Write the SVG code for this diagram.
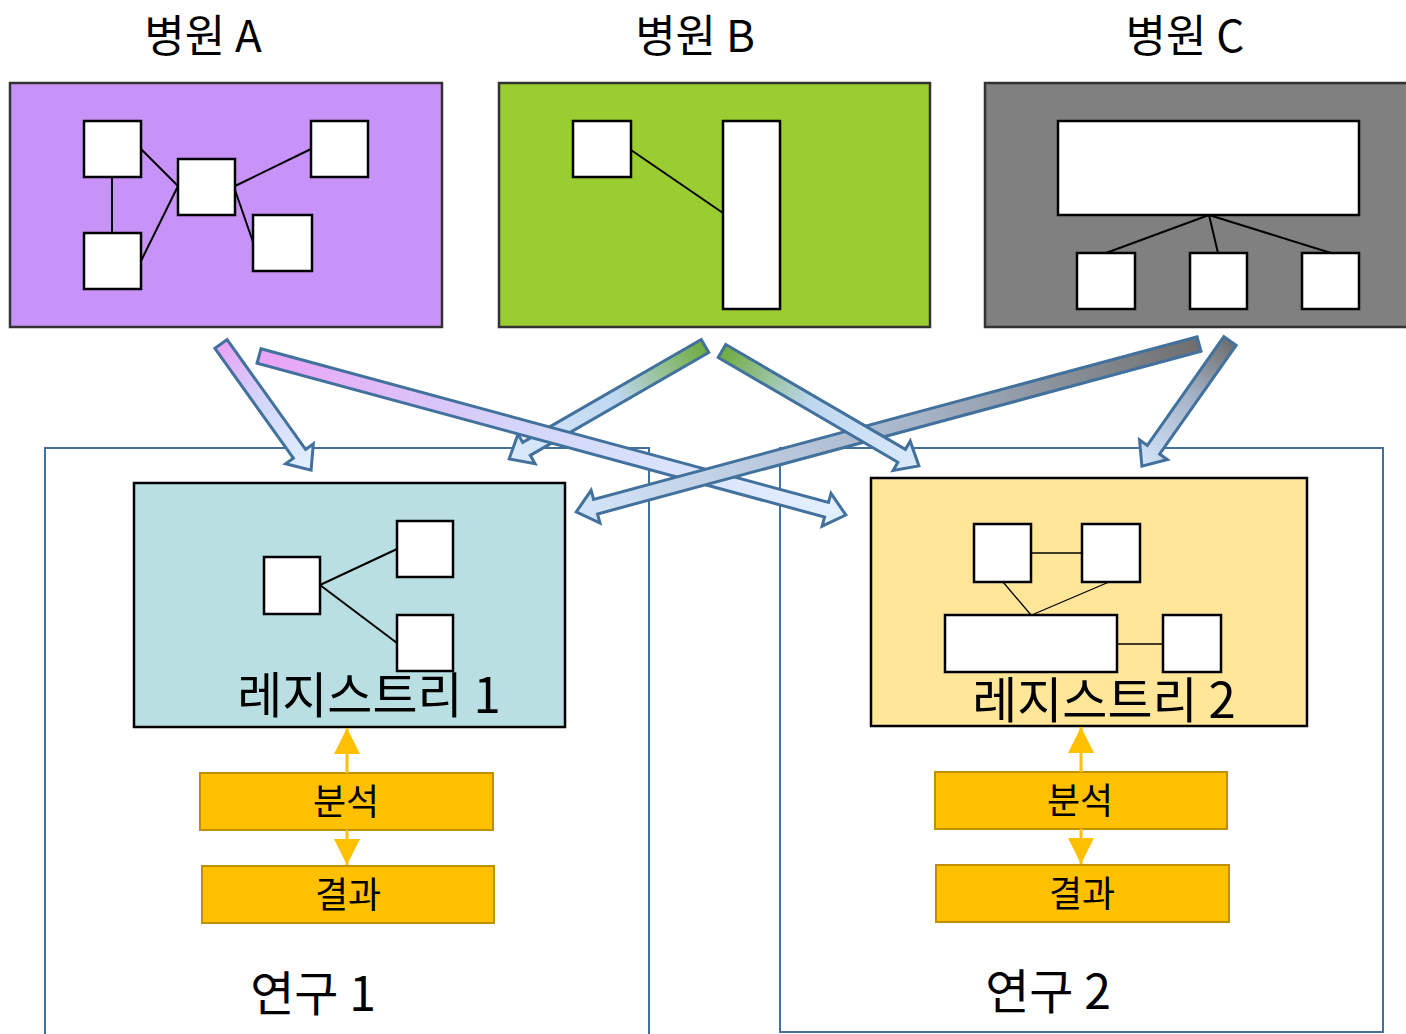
<svg xmlns="http://www.w3.org/2000/svg" width="1406" height="1034" viewBox="0 0 1406 1034">
<defs>
<style>
.t{font-family:"Noto Sans CJK KR","Noto Sans",sans-serif;fill:#000;text-anchor:middle}
.title{font-size:44px}
.reg{font-size:49px}
.lbl{font-size:36px}
.study{font-size:48px}
.wb{fill:#fff;stroke:#000;stroke-width:2.5}
.ln{stroke:#000;stroke-width:2;fill:none}
.lt{stroke:#000;stroke-width:1.3;fill:none}
.study-box{fill:none;stroke:#41719c;stroke-width:2}
.blk{stroke:#41719c;stroke-width:3;stroke-linejoin:miter}
.ob{fill:#ffc000;stroke:#bf9000;stroke-width:2}
.oa{stroke:#ffc000;stroke-width:3;fill:none}
</style>
<linearGradient id="gA" x1="0" y1="0" x2="1" y2="0">
<stop offset="0" stop-color="#e9a3f5"/><stop offset="0.45" stop-color="#d3d6fa"/><stop offset="1" stop-color="#e2f1ff"/>
</linearGradient>
<linearGradient id="gB" x1="0" y1="0" x2="1" y2="0">
<stop offset="0" stop-color="#6fab3e"/><stop offset="0.45" stop-color="#bed7f0"/><stop offset="1" stop-color="#dbeafc"/>
</linearGradient>
<linearGradient id="gC" x1="0" y1="0" x2="1" y2="0">
<stop offset="0" stop-color="#6e6e6e"/><stop offset="0.45" stop-color="#a6b4c8"/><stop offset="1" stop-color="#d4e5f9"/>
</linearGradient>
<marker id="oh2" viewBox="0 0 26 26" refX="26" refY="13" markerWidth="26" markerHeight="26" markerUnits="userSpaceOnUse" orient="auto">
<path d="M0,0 L26,13 L0,26 Z" fill="#ffc000"/>
</marker>
</defs>

<!-- titles -->
<text class="t title" x="203" y="52">병원 A</text>
<text class="t title" x="695" y="52">병원 B</text>
<text class="t title" x="1185" y="52">병원 C</text>

<!-- Hospital A -->
<g id="hospitalA">
<rect x="10" y="83" width="432" height="244" fill="#c893f8" stroke="#333" stroke-width="2.5"/>
<line class="ln" x1="141" y1="149" x2="178" y2="186"/>
<line class="ln" x1="112" y1="177" x2="112" y2="233"/>
<line class="ln" x1="141" y1="261" x2="178" y2="186"/>
<line class="ln" x1="235" y1="186" x2="311" y2="149"/>
<line class="ln" x1="235" y1="190" x2="253" y2="242"/>
<rect class="wb" x="84" y="121" width="57" height="56"/>
<rect class="wb" x="84" y="233" width="57" height="56"/>
<rect class="wb" x="178" y="159" width="57" height="56"/>
<rect class="wb" x="311" y="121" width="57" height="56"/>
<rect class="wb" x="253" y="215" width="59" height="56"/>
</g>

<!-- Hospital B -->
<g id="hospitalB">
<rect x="499" y="83" width="431" height="244" fill="#9acd32" stroke="#333" stroke-width="2.5"/>
<line class="ln" x1="631" y1="150" x2="723" y2="213"/>
<rect class="wb" x="573" y="121" width="58" height="56"/>
<rect class="wb" x="723" y="121" width="57" height="188"/>
</g>

<!-- Hospital C -->
<g id="hospitalC">
<rect x="985" y="83" width="440" height="244" fill="#808080" stroke="#333" stroke-width="2.5"/>
<line class="ln" x1="1209" y1="215" x2="1106" y2="253"/>
<line class="ln" x1="1209" y1="215" x2="1218" y2="253"/>
<line class="ln" x1="1209" y1="215" x2="1331" y2="253"/>
<rect class="wb" x="1058" y="121" width="301" height="94"/>
<rect class="wb" x="1077" y="253" width="58" height="56"/>
<rect class="wb" x="1190" y="253" width="57" height="56"/>
<rect class="wb" x="1302" y="253" width="57" height="56"/>
</g>

<!-- Study frames -->
<g id="study1">
<rect class="study-box" x="45" y="448" width="604" height="600"/>
<text class="t study" x="313" y="1011">연구 1</text>
</g>
<g id="study2">
<rect class="study-box" x="780" y="448" width="603" height="584"/>
<text class="t study" x="1048" y="1009">연구 2</text>
</g>

<!-- Registry 1 -->
<g id="registry1">
<rect x="134" y="483" width="431" height="244" fill="#b9dfe2" stroke="#000" stroke-width="2.5"/>
<line class="ln" x1="320" y1="585" x2="397" y2="549"/>
<line class="ln" x1="320" y1="585" x2="397" y2="643"/>
<rect class="wb" x="264" y="557" width="56" height="57"/>
<rect class="wb" x="397" y="521" width="56" height="56"/>
<rect class="wb" x="397" y="615" width="56" height="56"/>
<text class="t reg" x="369" y="713">레지스트리 1</text>
</g>

<!-- Registry 2 -->
<g id="registry2">
<rect x="871" y="478" width="436" height="248" fill="#ffe699" stroke="#000" stroke-width="2.5"/>
<line class="lt" x1="1031" y1="553" x2="1082" y2="553"/>
<line class="lt" x1="1003" y1="582" x2="1031" y2="615"/>
<line class="lt" x1="1109" y1="582" x2="1034" y2="614"/>
<line class="lt" x1="1117" y1="644" x2="1163" y2="644"/>
<rect class="wb" x="974" y="524" width="57" height="58"/>
<rect class="wb" x="1082" y="524" width="58" height="58"/>
<rect class="wb" x="945" y="615" width="172" height="57"/>
<rect class="wb" x="1163" y="615" width="58" height="57"/>
<text class="t reg" x="1104" y="718">레지스트리 2</text>
</g>

<!-- Analysis / results -->
<g id="analysis1">
<rect class="ob" x="200" y="773" width="293" height="57"/>
<text class="t lbl" x="346" y="815">분석</text>
</g>
<g id="result1">
<rect class="ob" x="202" y="866" width="292" height="57"/>
<text class="t lbl" x="348" y="908">결과</text>
</g>
<g id="analysis2">
<rect class="ob" x="935" y="772" width="292" height="57"/>
<text class="t lbl" x="1080" y="814">분석</text>
</g>
<g id="result2">
<rect class="ob" x="936" y="865" width="293" height="57"/>
<text class="t lbl" x="1082" y="907">결과</text>
</g>

<!-- connectors -->
<g id="connectors">
<line class="oa" x1="347" y1="773" x2="347" y2="728" marker-end="url(#oh2)"/>
<line class="oa" x1="347" y1="830" x2="347" y2="865" marker-end="url(#oh2)"/>
<line class="oa" x1="1081" y1="772" x2="1081" y2="727" marker-end="url(#oh2)"/>
<line class="oa" x1="1081" y1="829" x2="1081" y2="864" marker-end="url(#oh2)"/>

<path class="blk" fill="url(#gA)" transform="translate(221,344) rotate(54.46)" d="M0,-7.5 L135,-7.5 L135,-17 L155,0 L135,17 L135,7.5 L0,7.5 Z"/>
<path class="blk" fill="url(#gB)" transform="translate(705,346) rotate(150.04)" d="M0,-7.5 L206,-7.5 L206,-17 L226,0 L206,17 L206,7.5 L0,7.5 Z"/>
<path class="blk" fill="url(#gA)" transform="translate(259,356) rotate(15.16)" d="M0,-7.5 L588,-7.5 L588,-17 L608,0 L588,17 L588,7.5 L0,7.5 Z"/>
<path class="blk" fill="url(#gC)" transform="translate(1199,344) rotate(164.91)" d="M0,-7.5 L625,-7.5 L625,-17 L645,0 L625,17 L625,7.5 L0,7.5 Z"/>
<path class="blk" fill="url(#gB)" transform="translate(722,351) rotate(30.27)" d="M0,-7.5 L208,-7.5 L208,-17 L228,0 L208,17 L208,7.5 L0,7.5 Z"/>
<path class="blk" fill="url(#gC)" transform="translate(1230,341) rotate(125.15)" d="M0,-7.5 L133,-7.5 L133,-17 L153,0 L133,17 L133,7.5 L0,7.5 Z"/>
</g>
</svg>
